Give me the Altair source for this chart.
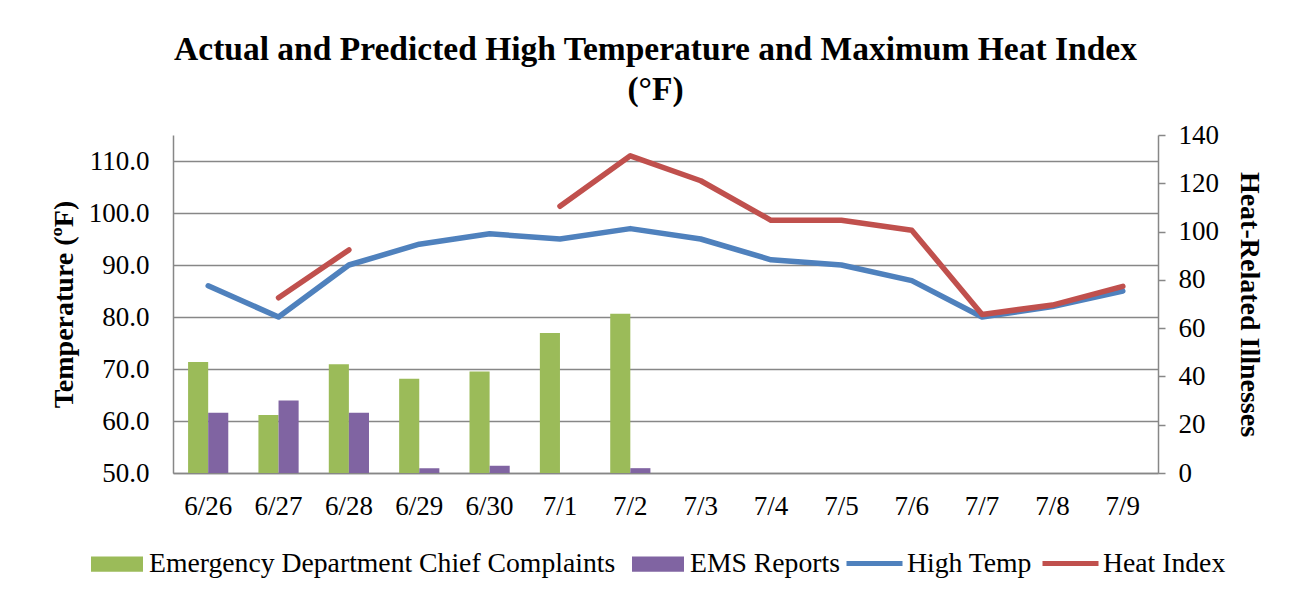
import altair as alt
import pandas as pd

dates = ["6/26", "6/27", "6/28", "6/29", "6/30", "7/1", "7/2",
         "7/3", "7/4", "7/5", "7/6", "7/7", "7/8", "7/9"]
ed_complaints = [46, 24, 45, 39, 42, 58, 66]
ems_reports = [25, 30, 25, 2, 3, 0, 2]
bar_dates = dates[:7]
high_temp = [86, 80, 90, 94, 96, 95, 97, 95, 91, 90, 87, 80, 82, 85]
heat_index = [None, 83.7, 92.9, None, None, 101.3, 111, 106.2, 98.6, 98.6, 96.7, 80.5, 82.3, 85.9]

bar_series = ["Emergency Department Chief Complaints", "EMS Reports"]
line_series = ["High Temp", "Heat Index"]
bar_colors = ["#9BBB59", "#8064A2"]
line_colors = ["#4F81BD", "#C0504D"]

bars_df = pd.DataFrame({
    "date": bar_dates * 2,
    "series": [bar_series[0]] * 7 + [bar_series[1]] * 7,
    "value": ed_complaints + ems_reports,
})
high_df = pd.DataFrame({"date": dates, "series": line_series[0], "value": high_temp})
heat_df = pd.DataFrame({"date": dates, "series": line_series[1], "value": heat_index})

FONT = "Liberation Serif"
GRAY = "#878787"

x_enc = alt.X("date:N", sort=dates,
              scale=alt.Scale(domain=dates, paddingInner=0, paddingOuter=0),
              axis=alt.Axis(title=None, labelAngle=0, ticks=False, labelPadding=20,
                            domainColor=GRAY, domainWidth=1.5, labelFont=FONT,
                            labelFontSize=27, labelColor="black", grid=False))

bars = alt.Chart(bars_df).mark_bar().encode(
    x=x_enc,
    xOffset=alt.XOffset("series:N", sort=bar_series,
                        scale=alt.Scale(domain=bar_series, paddingInner=0, paddingOuter=0.75)),
    y=alt.Y("value:Q", scale=alt.Scale(domain=[0, 140], nice=False, zero=True),
            axis=alt.Axis(orient="right", values=[0, 20, 40, 60, 80, 100, 120, 140],
                          grid=False, title="Heat-Related Illnesses", tickSize=7,
                          tickColor=GRAY, tickWidth=1.5, domainColor=GRAY, domainWidth=1.5,
                          labelPadding=13, labelFont=FONT, labelFontSize=27, labelColor="black",
                          titleFont=FONT, titleFontSize=28, titleFontWeight="bold",
                          titleColor="black", titlePadding=16)),
    fill=alt.Fill("series:N", sort=bar_series,
                  scale=alt.Scale(domain=bar_series, range=bar_colors),
                  legend=alt.Legend(orient="none", legendX=-82, legendY=403,
                                    direction="horizontal", title=None,
                                    symbolType="M-1,-0.29H1V0.29H-1Z", symbolSize=2704,
                                    symbolStrokeWidth=0, labelOffset=6, columnPadding=16,
                                    labelFont=FONT, labelFontSize=27.7, labelColor="black",
                                    labelLimit=1000)),
)

left_axis = alt.Axis(orient="left", values=[50, 60, 70, 80, 90, 100, 110],
                     format=".1f", grid=True, gridColor=GRAY, gridWidth=1.5,
                     ticks=False, labelPadding=24, domainColor=GRAY, domainWidth=1.5,
                     title="Temperature (ºF)", labelFont=FONT, labelFontSize=27,
                     labelColor="black", titleFont=FONT, titleFontSize=28,
                     titleFontWeight="bold", titleColor="black", titlePadding=10)

def line_layer(df, idx, axis, lx):
    return alt.Chart(df).mark_line(strokeWidth=5.5, strokeCap="round", strokeJoin="round",
                                   invalid="break-paths-show-domains").encode(
        x=x_enc,
        y=alt.Y("value:Q", scale=alt.Scale(domain=[50, 115], nice=False, zero=False),
                axis=axis),
        stroke=alt.Stroke("series:N",
                          scale=alt.Scale(domain=[line_series[idx]], range=[line_colors[idx]]),
                          legend=alt.Legend(orient="none", legendX=lx, legendY=398,
                                            direction="horizontal", title=None,
                                            symbolType="M-1,0H1", symbolSize=3136,
                                            symbolStrokeWidth=5, labelOffset=2,
                                            labelFont=FONT,
                                            labelFontSize=27.7, labelColor="black",
                                            labelLimit=1000)),
    )

high = line_layer(high_df, 0, left_axis, 671)
heat = line_layer(heat_df, 1, None, 867)

chart = alt.layer(bars, high, heat).resolve_scale(
    y="independent", fill="independent", stroke="independent"
).properties(
    width=985, height=338,
    padding={"left": 165, "top": 127, "right": 120, "bottom": 115},
    autosize=alt.AutoSizeParams(type="none"),
    title=alt.TitleParams(["Actual and Predicted High Temperature and Maximum Heat Index", "(°F)"],
                          font=FONT, fontSize=33.5, fontWeight="bold", color="black",
                          anchor="middle", dx=-10, offset=14, lineHeight=40),
    background="white",
).configure_view(stroke=None)

chart.save("out.html", embed_options={"renderer": "svg", "actions": False})
